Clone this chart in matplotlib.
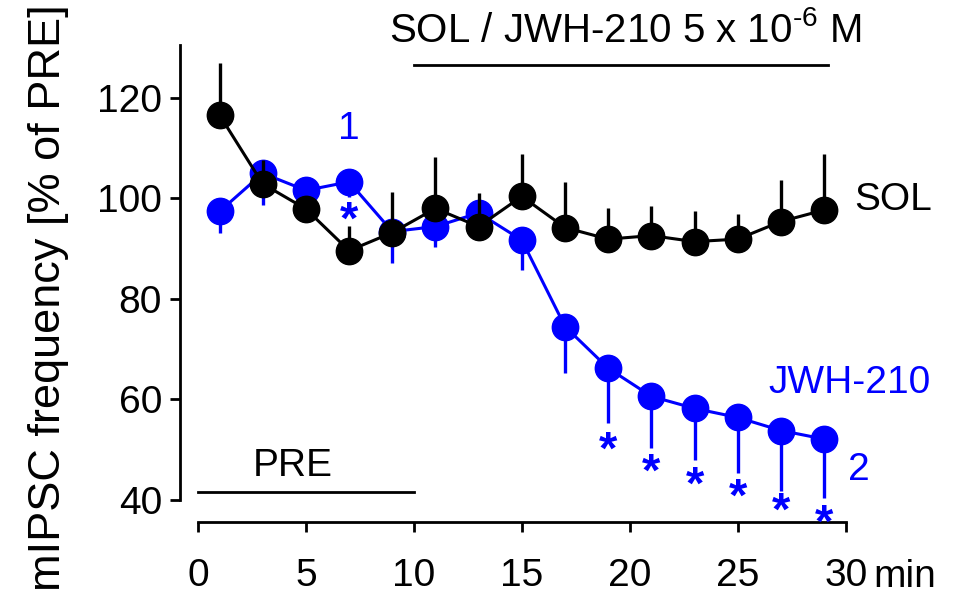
import matplotlib.pyplot as plt

plt.rcParams['font.family'] = ['Liberation Sans', 'DejaVu Sans']
plt.rcParams['mathtext.fontset'] = 'custom'
plt.rcParams['mathtext.rm'] = 'Liberation Sans'
plt.rcParams['mathtext.default'] = 'rm'

# time points (min)
t = [1, 3, 5, 7, 9, 11, 13, 15, 17, 19, 21, 23, 25, 27, 29]

# SOL (black), error bars up
sol = [116.6, 102.9, 97.9, 89.6, 93.2, 98.0, 94.4, 100.4, 94.2, 91.9, 92.6, 91.4, 91.9, 95.4, 97.7]
sol_err = [10.4, 4.8, 2.0, 5.0, 8.0, 10.3, 6.7, 8.4, 9.0, 6.1, 5.8, 6.0, 5.0, 8.3, 11.2]

# JWH-210 (blue), error bars down
jwh = [97.4, 105.0, 101.6, 103.3, 93.4, 94.4, 97.1, 91.7, 74.5, 66.2, 60.6, 58.2, 56.4, 53.8, 52.1]
jwh_err = [4.3, 6.3, 3.0, 3.0, 6.2, 4.0, 3.0, 5.9, 9.2, 10.9, 10.3, 10.3, 11.1, 12.1, 11.8]

# significance stars (time, y position)
star_t = [7, 19, 21, 23, 25, 27, 29]
star_y = [95.4, 49.6, 45.3, 42.7, 40.3, 37.4, 35.0]

blue = '#0000ff'
fs = 28

fig = plt.figure(figsize=(9.56, 5.96), dpi=100)
ax = fig.add_axes([0.1883, 0.1242, 0.7867, 0.8042])

zero = [0] * len(t)
ax.errorbar(t, jwh, yerr=[jwh_err, zero], color=blue, lw=2.2, elinewidth=2.4,
            marker='o', ms=19, capsize=0, zorder=2)
ax.errorbar(t, sol, yerr=[zero, sol_err], color='black', lw=2.2, elinewidth=2.4,
            marker='o', ms=19, capsize=0, zorder=3)

for x, y in zip(star_t, star_y):
    ax.text(x, y, '*', color=blue, fontsize=34, fontweight='bold',
            ha='center', va='center', zorder=5, clip_on=False)

ax.set_xlim(-0.83, 34)
ax.set_ylim(35.6, 131)
ax.spines['top'].set_visible(False)
ax.spines['right'].set_visible(False)
ax.spines['left'].set_bounds(40, 130.5)
ax.spines['bottom'].set_bounds(0, 30)
for s in ['left', 'bottom']:
    ax.spines[s].set_linewidth(2)

ax.set_xticks([0, 5, 10, 15, 20, 25, 30])
ax.set_yticks([40, 60, 80, 100, 120])
ax.tick_params(width=2, length=7, labelsize=fs, pad=6)
ax.tick_params(axis='x', pad=19)
ax.set_ylabel('mIPSC frequency [% of PRE]', fontsize=32.5, labelpad=20, y=0.469)

# period bars and labels
ax.plot([0, 10], [41.6, 41.6], color='black', lw=2, clip_on=False)
ax.text(4.4, 46.7, 'PRE', fontsize=fs, ha='center', va='center')
ax.plot([10, 29.2], [126.6, 126.6], color='black', lw=2, clip_on=False)
ax.text(19.8, 133.5, 'SOL / JWH-210 5 x 10$^{\u20106}$ M', fontsize=29,
        ha='center', va='center')

ax.text(30.4, 99.7, 'SOL', fontsize=fs, ha='left', va='center')
ax.text(30.2, 63.3, 'JWH-210', fontsize=fs, ha='center', va='center', color=blue)
ax.text(7, 113.8, '1', fontsize=fs, ha='center', va='center', color=blue)
ax.text(30.6, 46.0, '2', fontsize=fs, ha='center', va='center', color=blue)
ax.text(31.3, 24.6, 'min', fontsize=fs, ha='left', va='center')

fig.savefig('out.png', dpi=100)
